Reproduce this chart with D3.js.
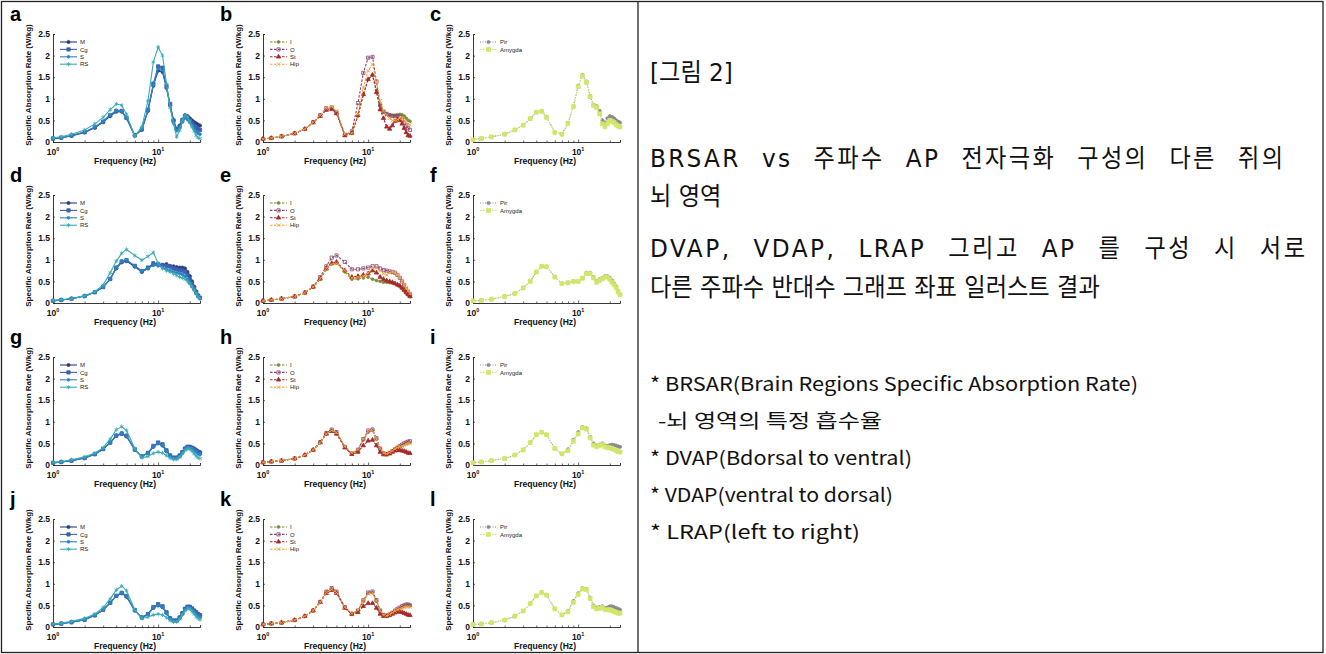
<!DOCTYPE html>
<html><head><meta charset="utf-8">
<script src="https://cdn.jsdelivr.net/npm/d3@7"></script>
<style>body{margin:0;background:#fff}svg{display:block}</style>
</head><body>
<svg id="c" width="1326" height="654"></svg>
<script>
// ---------- data ----------
const freq = [1,1.2,1.5,2,2.5,3,3.5,4,4.5,5,6,7,8,9,10,11,12,13,14,15,16,17,18,19,20,21,22,23,24,25];
const blueNames = ["M","Cg","S","RS"];
const warmNames = ["I","O","St","Hip"];
const greenNames = ["Pir","Amygda"];
const panelLetters = ["a","b","c","d","e","f","g","h","i","j","k","l"];
const yTicks = [0,0.5,1,1.5,2,2.5];
const xTicks = [1,2,3,4,5,6,7,8,9,10,20];

// panel a
const aM  = [0.08,0.1,0.14,0.22,0.33,0.46,0.6,0.7,0.7,0.55,0.15,0.28,0.72,1.3,1.65,1.62,1.25,0.85,0.5,0.3,0.38,0.52,0.62,0.6,0.55,0.5,0.46,0.43,0.4,0.38];
const aCg = [0.08,0.1,0.15,0.23,0.34,0.47,0.62,0.72,0.72,0.56,0.16,0.3,0.75,1.35,1.75,1.72,1.3,0.88,0.5,0.3,0.36,0.5,0.6,0.57,0.5,0.44,0.38,0.33,0.3,0.28];
const aS  = [0.08,0.1,0.15,0.23,0.35,0.48,0.63,0.73,0.71,0.55,0.15,0.29,0.74,1.32,1.7,1.66,1.25,0.82,0.45,0.26,0.32,0.46,0.56,0.52,0.45,0.38,0.3,0.24,0.2,0.18];
const aRS = [0.1,0.12,0.18,0.28,0.42,0.57,0.75,0.88,0.85,0.64,0.13,0.35,0.95,1.85,2.2,2.0,1.35,0.8,0.42,0.12,0.27,0.5,0.62,0.58,0.48,0.35,0.25,0.15,0.1,0.08];
// panel b
const bI   = [0.07,0.09,0.13,0.2,0.3,0.45,0.6,0.75,0.78,0.7,0.18,0.2,0.6,1.1,1.45,1.55,1.2,0.85,0.7,0.65,0.62,0.62,0.62,0.63,0.64,0.63,0.6,0.55,0.5,0.48];
const bO   = [0.07,0.09,0.13,0.2,0.3,0.46,0.62,0.78,0.8,0.68,0.16,0.25,0.9,1.6,1.95,1.97,1.4,0.85,0.7,0.65,0.62,0.6,0.6,0.6,0.58,0.52,0.45,0.38,0.32,0.28];
const bSt  = [0.07,0.09,0.13,0.2,0.3,0.45,0.6,0.74,0.76,0.66,0.15,0.2,0.62,1.1,1.45,1.55,1.15,0.75,0.55,0.35,0.3,0.38,0.48,0.52,0.5,0.42,0.32,0.22,0.15,0.14];
const bHip = [0.07,0.09,0.13,0.2,0.3,0.46,0.62,0.78,0.82,0.72,0.18,0.2,0.65,1.25,1.65,1.8,1.4,0.95,0.72,0.62,0.55,0.5,0.5,0.52,0.55,0.55,0.5,0.45,0.42,0.4];
// panel c
const cPir = [0.05,0.08,0.12,0.18,0.28,0.39,0.54,0.69,0.71,0.58,0.23,0.18,0.44,0.82,1.3,1.55,1.4,1.06,0.86,0.83,0.72,0.5,0.45,0.55,0.6,0.58,0.55,0.5,0.47,0.45];
const cAmy = [0.05,0.08,0.12,0.18,0.28,0.39,0.54,0.69,0.71,0.57,0.22,0.18,0.43,0.82,1.28,1.53,1.38,1.05,0.85,0.8,0.65,0.42,0.35,0.42,0.5,0.48,0.45,0.4,0.37,0.35];
// panel d
const dM  = [0.05,0.07,0.1,0.16,0.25,0.37,0.55,0.8,0.94,0.97,0.84,0.72,0.8,0.88,0.88,0.88,0.9,0.86,0.85,0.83,0.82,0.82,0.8,0.72,0.62,0.5,0.38,0.27,0.18,0.12];
const dCg = [0.05,0.07,0.1,0.16,0.25,0.37,0.56,0.82,0.96,0.99,0.86,0.74,0.82,0.92,0.9,0.88,0.86,0.84,0.8,0.78,0.76,0.75,0.72,0.65,0.55,0.45,0.35,0.25,0.17,0.12];
const dS  = [0.05,0.07,0.1,0.16,0.25,0.37,0.56,0.82,0.97,1.0,0.86,0.74,0.8,0.88,0.86,0.82,0.78,0.75,0.72,0.7,0.68,0.66,0.62,0.55,0.46,0.38,0.3,0.22,0.15,0.1];
const dRS = [0.06,0.08,0.1,0.17,0.26,0.42,0.7,0.97,1.15,1.24,1.1,0.99,1.08,1.17,0.92,0.8,0.75,0.72,0.68,0.64,0.6,0.58,0.55,0.5,0.45,0.38,0.3,0.22,0.15,0.1];
// panel e
const eI   = [0.05,0.07,0.1,0.15,0.24,0.37,0.55,0.78,0.9,0.92,0.72,0.55,0.56,0.58,0.6,0.55,0.52,0.5,0.48,0.48,0.47,0.46,0.45,0.42,0.38,0.33,0.28,0.22,0.18,0.15];
const eO   = [0.05,0.07,0.1,0.15,0.24,0.38,0.6,0.85,1.05,1.1,0.95,0.78,0.78,0.8,0.82,0.85,0.85,0.8,0.76,0.75,0.73,0.72,0.7,0.65,0.58,0.5,0.42,0.32,0.25,0.2];
const eSt  = [0.05,0.07,0.1,0.15,0.24,0.37,0.56,0.8,0.92,0.95,0.75,0.6,0.62,0.65,0.68,0.75,0.7,0.6,0.55,0.52,0.5,0.48,0.45,0.42,0.4,0.35,0.3,0.25,0.2,0.15];
const eHip = [0.05,0.07,0.1,0.15,0.24,0.37,0.56,0.8,0.9,0.92,0.75,0.58,0.6,0.62,0.7,0.8,0.82,0.75,0.68,0.65,0.7,0.72,0.7,0.65,0.58,0.5,0.42,0.35,0.28,0.22];
// panel f
const fPir = [0.05,0.06,0.09,0.15,0.22,0.35,0.5,0.72,0.85,0.84,0.6,0.45,0.47,0.5,0.5,0.58,0.7,0.7,0.6,0.5,0.55,0.58,0.62,0.62,0.58,0.52,0.45,0.38,0.28,0.2];
const fAmy = [0.05,0.06,0.09,0.15,0.22,0.35,0.5,0.72,0.85,0.84,0.6,0.45,0.47,0.5,0.5,0.57,0.68,0.68,0.58,0.48,0.52,0.56,0.6,0.6,0.55,0.48,0.42,0.35,0.26,0.19];
// panel g
const gM  = [0.05,0.07,0.1,0.16,0.25,0.37,0.52,0.68,0.72,0.66,0.35,0.2,0.28,0.42,0.5,0.45,0.32,0.22,0.17,0.17,0.22,0.3,0.38,0.42,0.42,0.4,0.38,0.35,0.32,0.3];
const gCg = [0.05,0.07,0.1,0.16,0.25,0.37,0.52,0.68,0.73,0.68,0.36,0.2,0.28,0.44,0.52,0.48,0.34,0.22,0.17,0.17,0.22,0.3,0.38,0.42,0.42,0.4,0.37,0.33,0.3,0.28];
const gS  = [0.05,0.07,0.1,0.16,0.25,0.37,0.52,0.69,0.74,0.68,0.35,0.2,0.27,0.42,0.5,0.46,0.32,0.21,0.16,0.16,0.2,0.28,0.36,0.4,0.4,0.38,0.34,0.3,0.26,0.24];
const gRS = [0.06,0.08,0.12,0.19,0.28,0.4,0.6,0.82,0.89,0.8,0.38,0.17,0.2,0.27,0.3,0.28,0.22,0.16,0.13,0.13,0.18,0.26,0.34,0.38,0.37,0.32,0.26,0.21,0.17,0.15];
// panel h
const hI   = [0.06,0.08,0.1,0.15,0.23,0.35,0.52,0.72,0.8,0.75,0.42,0.27,0.35,0.58,0.76,0.8,0.6,0.38,0.27,0.25,0.28,0.32,0.36,0.4,0.42,0.45,0.48,0.5,0.52,0.52];
const hO   = [0.06,0.08,0.1,0.15,0.23,0.35,0.53,0.74,0.82,0.76,0.42,0.26,0.35,0.6,0.8,0.82,0.62,0.38,0.27,0.25,0.28,0.32,0.36,0.4,0.44,0.47,0.5,0.52,0.54,0.55];
const hSt  = [0.06,0.08,0.1,0.15,0.23,0.35,0.52,0.72,0.78,0.72,0.4,0.25,0.3,0.45,0.56,0.58,0.45,0.3,0.24,0.24,0.26,0.3,0.33,0.34,0.34,0.33,0.32,0.3,0.28,0.27];
const hHip = [0.06,0.08,0.1,0.15,0.23,0.35,0.52,0.72,0.8,0.75,0.43,0.28,0.36,0.6,0.78,0.8,0.6,0.38,0.28,0.26,0.29,0.33,0.37,0.4,0.42,0.44,0.46,0.48,0.5,0.5];
// panel i
const iPir = [0.05,0.07,0.1,0.15,0.23,0.35,0.52,0.7,0.76,0.7,0.38,0.26,0.36,0.58,0.76,0.88,0.85,0.65,0.5,0.45,0.47,0.5,0.45,0.44,0.46,0.47,0.46,0.45,0.43,0.42];
const iAmy = [0.05,0.07,0.1,0.15,0.23,0.35,0.52,0.7,0.76,0.7,0.38,0.26,0.33,0.55,0.72,0.86,0.83,0.63,0.46,0.42,0.45,0.48,0.42,0.4,0.4,0.38,0.36,0.33,0.31,0.3];
// panel j
const jM  = [0.06,0.08,0.11,0.17,0.27,0.4,0.56,0.72,0.78,0.7,0.38,0.22,0.3,0.44,0.5,0.46,0.33,0.2,0.15,0.15,0.22,0.32,0.42,0.46,0.46,0.42,0.38,0.34,0.3,0.28];
const jCg = [0.06,0.08,0.11,0.17,0.27,0.4,0.56,0.72,0.79,0.72,0.39,0.22,0.3,0.46,0.53,0.48,0.34,0.2,0.15,0.15,0.22,0.32,0.42,0.47,0.47,0.43,0.38,0.34,0.3,0.27];
const jS  = [0.06,0.08,0.11,0.17,0.27,0.4,0.56,0.73,0.8,0.72,0.38,0.22,0.29,0.44,0.5,0.46,0.32,0.19,0.14,0.14,0.2,0.3,0.4,0.45,0.44,0.4,0.35,0.3,0.25,0.22];
const jRS = [0.07,0.09,0.13,0.2,0.3,0.45,0.65,0.86,0.95,0.84,0.4,0.2,0.23,0.28,0.3,0.28,0.22,0.15,0.12,0.12,0.18,0.28,0.38,0.43,0.42,0.36,0.3,0.24,0.2,0.17];
// panel k
const kI   = [0.06,0.08,0.1,0.16,0.25,0.38,0.58,0.8,0.88,0.8,0.45,0.3,0.38,0.6,0.78,0.8,0.6,0.38,0.28,0.26,0.28,0.32,0.36,0.4,0.43,0.46,0.49,0.5,0.5,0.5];
const kO   = [0.06,0.08,0.1,0.16,0.25,0.38,0.58,0.82,0.9,0.82,0.46,0.3,0.38,0.62,0.8,0.82,0.62,0.38,0.28,0.26,0.29,0.33,0.38,0.42,0.45,0.48,0.5,0.52,0.52,0.5];
const kSt  = [0.06,0.08,0.1,0.16,0.25,0.38,0.57,0.78,0.85,0.78,0.44,0.3,0.34,0.48,0.55,0.55,0.44,0.3,0.25,0.25,0.27,0.3,0.33,0.35,0.35,0.34,0.32,0.3,0.28,0.27];
const kHip = [0.06,0.08,0.1,0.16,0.25,0.38,0.57,0.8,0.87,0.8,0.46,0.31,0.39,0.6,0.77,0.79,0.6,0.38,0.28,0.26,0.29,0.33,0.37,0.4,0.42,0.44,0.46,0.47,0.47,0.46];
// panel l
const lPir = [0.06,0.07,0.1,0.16,0.25,0.37,0.54,0.72,0.8,0.74,0.42,0.28,0.37,0.6,0.78,0.9,0.88,0.68,0.5,0.45,0.46,0.48,0.44,0.45,0.48,0.48,0.46,0.44,0.42,0.4];
const lAmy = [0.06,0.07,0.1,0.16,0.25,0.37,0.54,0.72,0.8,0.74,0.42,0.28,0.35,0.57,0.75,0.88,0.86,0.66,0.47,0.42,0.43,0.45,0.4,0.4,0.4,0.38,0.36,0.34,0.32,0.32];

const captionTop = ["[그림 2]", "BRSAR vs 주파수 AP 전자극화 구성의 다른 쥐의", "뇌 영역", "DVAP, VDAP, LRAP 그리고 AP 를 구성 시 서로", "다른 주파수 반대수 그래프 좌표 일러스트 결과"];
const captionNotes = ["* BRSAR(Brain Regions Specific Absorption Rate)", "-뇌 영역의 특정 흡수율", "* DVAP(Bdorsal to ventral)", "* VDAP(ventral to dorsal)", "* LRAP(left to right)"];

// ---------- layout / styles ----------
const panelData = [
  [aM,aCg,aS,aRS],[bI,bO,bSt,bHip],[cPir,cAmy],
  [dM,dCg,dS,dRS],[eI,eO,eSt,eHip],[fPir,fAmy],
  [gM,gCg,gS,gRS],[hI,hO,hSt,hHip],[iPir,iAmy],
  [jM,jCg,jS,jRS],[kI,kO,kSt,kHip],[lPir,lAmy]
];
const groupNames = [blueNames, warmNames, greenNames];
const groupStyles = [
  [ {c:"#2a3d7c", dash:null, sym:d3.symbolCircle, s:8, fill:true},
    {c:"#3b62ad", dash:null, sym:d3.symbolSquare, s:11, fill:true},
    {c:"#2c83c4", dash:null, sym:d3.symbolCircle, s:6, fill:true},
    {c:"#3aaab4", dash:null, sym:d3.symbolAsterisk, s:12, fill:false} ],
  [ {c:"#7e8a3c", dash:"2.5,1.5", sym:d3.symbolCircle, s:6, fill:true},
    {c:"#8a4372", dash:"2.5,1.5", sym:d3.symbolSquare, s:10, fill:false},
    {c:"#a52a2a", dash:"2.5,1.5", sym:d3.symbolTriangle, s:8, fill:true},
    {c:"#f3a13a", dash:"2.5,1.5", sym:d3.symbolTimes, s:10, fill:false} ],
  [ {c:"#8c8c8c", dash:"1,1.5", sym:d3.symbolCircle, s:8, fill:true},
    {c:"#d2e66a", dash:"1.5,1.5", sym:d3.symbolSquare, s:15, fill:true} ]
];
const colX = [53, 263, 473];
const rowY = [142, 303, 465, 627];
const PW = 147, PH = 108;

const svg = d3.select("#c");
svg.append("rect").attr("width",1326).attr("height",654).attr("fill","#fff");

panelData.forEach((series, p) => {
  const row = Math.floor(p/3), col = p%3;
  const x0 = colX[col], y0 = rowY[row];
  const x = d3.scaleLog().domain([1,25]).range([x0, x0+PW]);
  const y = d3.scaleLinear().domain([0,2.5]).range([y0, y0-PH]);
  const g = svg.append("g");

  const ya = g.append("g").attr("transform",`translate(${x0},0)`)
    .call(d3.axisLeft(y).tickValues(yTicks).tickSize(-2).tickPadding(3).tickFormat(d=>d3.format("")(d)));
  ya.select(".domain").attr("stroke","#222").attr("stroke-width",0.9);
  ya.selectAll(".tick line").attr("stroke","#222").attr("stroke-width",0.7);
  ya.selectAll("text").attr("font-family","Liberation Sans, Arial").attr("font-weight","bold").attr("font-size",8.5).attr("fill","#111");

  const xa = g.append("g").attr("transform",`translate(0,${y0})`)
    .call(d3.axisBottom(x).tickValues(xTicks).tickSize(-2).tickFormat(""));
  xa.select(".domain").attr("stroke","#222").attr("stroke-width",0.9);
  xa.selectAll(".tick line").attr("stroke","#222").attr("stroke-width",0.7)
    .attr("y2", d => (d===1||d===10) ? -2.5 : -1.5);
  [[1,"0"],[10,"1"]].forEach(([v,e]) => {
    const t = g.append("text").attr("x", x(v)).attr("y", y0+13)
      .attr("text-anchor","middle").attr("font-family","Liberation Sans, Arial")
      .attr("font-weight","bold").attr("font-size",8.5).attr("fill","#111");
    t.append("tspan").text("10");
    t.append("tspan").attr("dy",-4).attr("font-size",5.5).text(e);
  });
  g.append("text").attr("x", x0+72).attr("y", y0+22).attr("text-anchor","middle")
    .attr("font-family","Liberation Sans, Arial").attr("font-weight","bold").attr("font-size",8.6)
    .attr("fill","#111").text("Frequency (Hz)");
  g.append("text").attr("transform",`translate(${x0-22},${y0-57}) rotate(-90)`)
    .attr("text-anchor","middle").attr("font-family","Liberation Sans, Arial").attr("font-weight","bold")
    .attr("font-size",8).attr("fill","#111").text("Specific Absorption Rate (W/kg)");
  g.append("text").attr("x", x0-43).attr("y", y0-121)
    .attr("font-family","Liberation Sans, Arial").attr("font-weight","bold").attr("font-size",20)
    .attr("fill","#000").text(panelLetters[p]);

  const styles = groupStyles[col], names = groupNames[col];
  const line = d3.line().x((d,i)=>x(freq[i])).y(d=>y(d));
  series.forEach((vals, si) => {
    const st = styles[si];
    g.append("path").datum(vals).attr("d", line).attr("fill","none")
      .attr("stroke", st.c).attr("stroke-width", 1.1).attr("stroke-dasharray", st.dash);
    const sym = d3.symbol().type(st.sym).size(st.s);
    g.selectAll(null).data(vals).enter().append("path")
      .attr("transform",(d,i)=>`translate(${x(freq[i])},${y(d)})`)
      .attr("d", sym)
      .attr("fill", st.fill ? st.c : "none")
      .attr("stroke", st.c).attr("stroke-width", 0.8);
  });

  names.forEach((nm, si) => {
    const st = styles[si];
    const ly = y0 - 100 + si*7.4;
    g.append("line").attr("x1", x0+7).attr("x2", x0+24).attr("y1", ly).attr("y2", ly)
      .attr("stroke", st.c).attr("stroke-width",1.1).attr("stroke-dasharray", st.dash);
    g.append("path").attr("transform",`translate(${x0+15.5},${ly})`)
      .attr("d", d3.symbol().type(st.sym).size(st.s)).attr("fill", st.fill?st.c:"none")
      .attr("stroke", st.c).attr("stroke-width",0.8);
    g.append("text").attr("x", x0+27).attr("y", ly+2.2).attr("font-family","Liberation Sans, Arial")
      .attr("font-size",6).attr("fill","#222").text(nm);
  });
});

// ---------- table frame ----------
svg.append("rect").attr("x",1.5).attr("y",1.5).attr("width",1321.5).attr("height",651)
  .attr("fill","none").attr("stroke","#222").attr("stroke-width",1.3);
svg.append("line").attr("x1",638).attr("x2",638).attr("y1",1.5).attr("y2",652.5)
  .attr("stroke","#222").attr("stroke-width",1.3);

// ---------- caption (condensed font, justified lines) ----------
const topY = [81, 167, 205, 257, 296];
const topW = [72, 633, 68, 655, 450];
const justify = [false, true, false, true, false];
const FS = 25;
const CAP_FONT = "DejaVu Sans, Noto Sans CJK KR, Noto Sans";
const probe = svg.append("text").attr("font-family",CAP_FONT).attr("font-size",FS).text(captionTop[4]);
const sx = topW[4] / probe.node().getComputedTextLength();
probe.remove();
captionTop.forEach((t,i) => {
  const el = svg.append("text").attr("transform",`translate(650,${topY[i]}) scale(${sx},1)`)
    .attr("font-family",CAP_FONT).attr("font-size",FS).attr("fill","#111")
    .attr("xml:space","preserve").text(t);
  if (justify[i]) {
    const w = el.node().getComputedTextLength();
    const nSp = t.split(" ").length - 1;
    const nCh = t.length - 1;
    const extra = topW[i]/sx - w;
    el.attr("word-spacing", extra*0.55/nSp).attr("letter-spacing", extra*0.45/nCh);
  }
});
const noteY = [391, 428, 465, 502, 539];
const noteX = [650, 658, 650, 650, 650];
const noteW = [488, 224, 262, 243, 210];
captionNotes.forEach((t,i) => {
  svg.append("text").attr("x",noteX[i]).attr("y",noteY[i]).attr("font-family","Noto Sans CJK KR, Noto Sans")
    .attr("font-size",19).attr("fill","#111").attr("textLength", noteW[i])
    .attr("lengthAdjust","spacingAndGlyphs").text(t);
});
</script>
</body></html>
